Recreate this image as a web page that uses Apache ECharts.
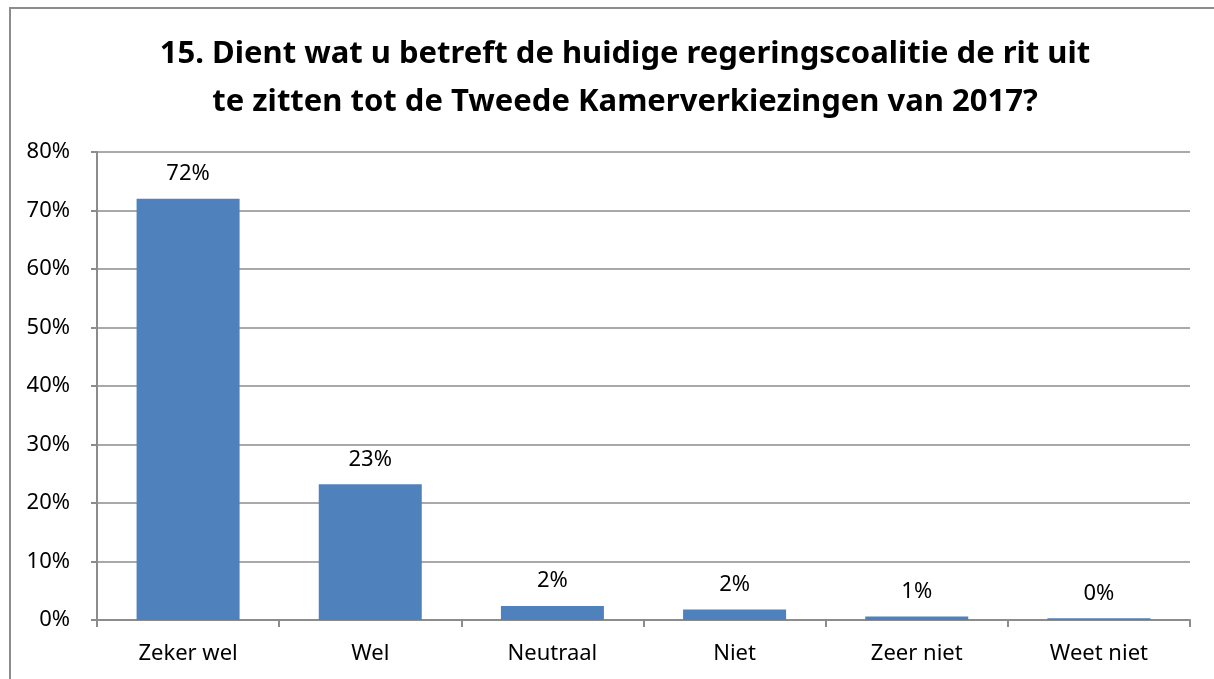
<!DOCTYPE html>
<html>
<head>
<meta charset="utf-8">
<script src="https://cdn.jsdelivr.net/npm/echarts@6/dist/echarts.min.js"></script>
<style>
  html, body { margin: 0; padding: 0; background: #fff; overflow: hidden; }
  #frame { position: absolute; left: 9px; top: 7px; width: 1260px; height: 720px; border: 2px solid #8c8c8c; box-sizing: border-box; }
  #chart { position: absolute; left: 0; top: 0; width: 1214px; height: 679px; }
</style>
</head>
<body>
<div id="frame"></div>
<div id="chart"></div>
<script>
// Gegevens
const categories = ["Zeker wel", "Wel", "Neutraal", "Niet", "Zeer niet", "Weet niet"];
const percentages = [72, 23.2, 2.4, 1.8, 0.6, 0.3];
const titleLines = [
  "15. Dient wat u betreft de huidige regeringscoalitie de rit uit",
  "te zitten tot de Tweede Kamerverkiezingen van 2017?"
];

const fontFamily = "'Noto Sans', 'Open Sans', sans-serif";
const gray = "#8c8c8c";

const chart = echarts.init(document.getElementById("chart"));
chart.setOption({
  animation: false,
  title: {
    text: titleLines.join("\n"),
    left: 620,
    textAlign: "center",
    top: 25,
    textStyle: { fontFamily, fontSize: 31, fontWeight: "bold", color: "#000", lineHeight: 48 }
  },
  grid: { left: 97, right: 24, top: 152, bottom: 59 },
  xAxis: {
    type: "category",
    data: categories,
    axisLine: { lineStyle: { color: gray, width: 2 } },
    axisTick: { show: true, length: 7, lineStyle: { color: gray, width: 2 } },
    axisLabel: { fontFamily, fontSize: 22, color: "#000", margin: 23 }
  },
  yAxis: {
    type: "value",
    min: 0,
    max: 80,
    interval: 10,
    axisLine: { show: true, lineStyle: { color: gray, width: 2 } },
    axisTick: { show: true, length: 6, lineStyle: { color: gray, width: 2 } },
    axisLabel: { fontFamily, fontSize: 22, color: "#000", margin: 27, formatter: "{value}%" },
    splitLine: { lineStyle: { color: gray, width: 1.5 } }
  },
  series: [{
    type: "bar",
    data: percentages,
    barWidth: 103,
    itemStyle: { color: "#4f81bd" },
    label: {
      show: true,
      position: "top",
      distance: 14,
      fontFamily,
      fontSize: 22,
      color: "#000",
      formatter: p => Math.round(p.value) + "%"
    }
  }]
});
</script>
</body>
</html>
